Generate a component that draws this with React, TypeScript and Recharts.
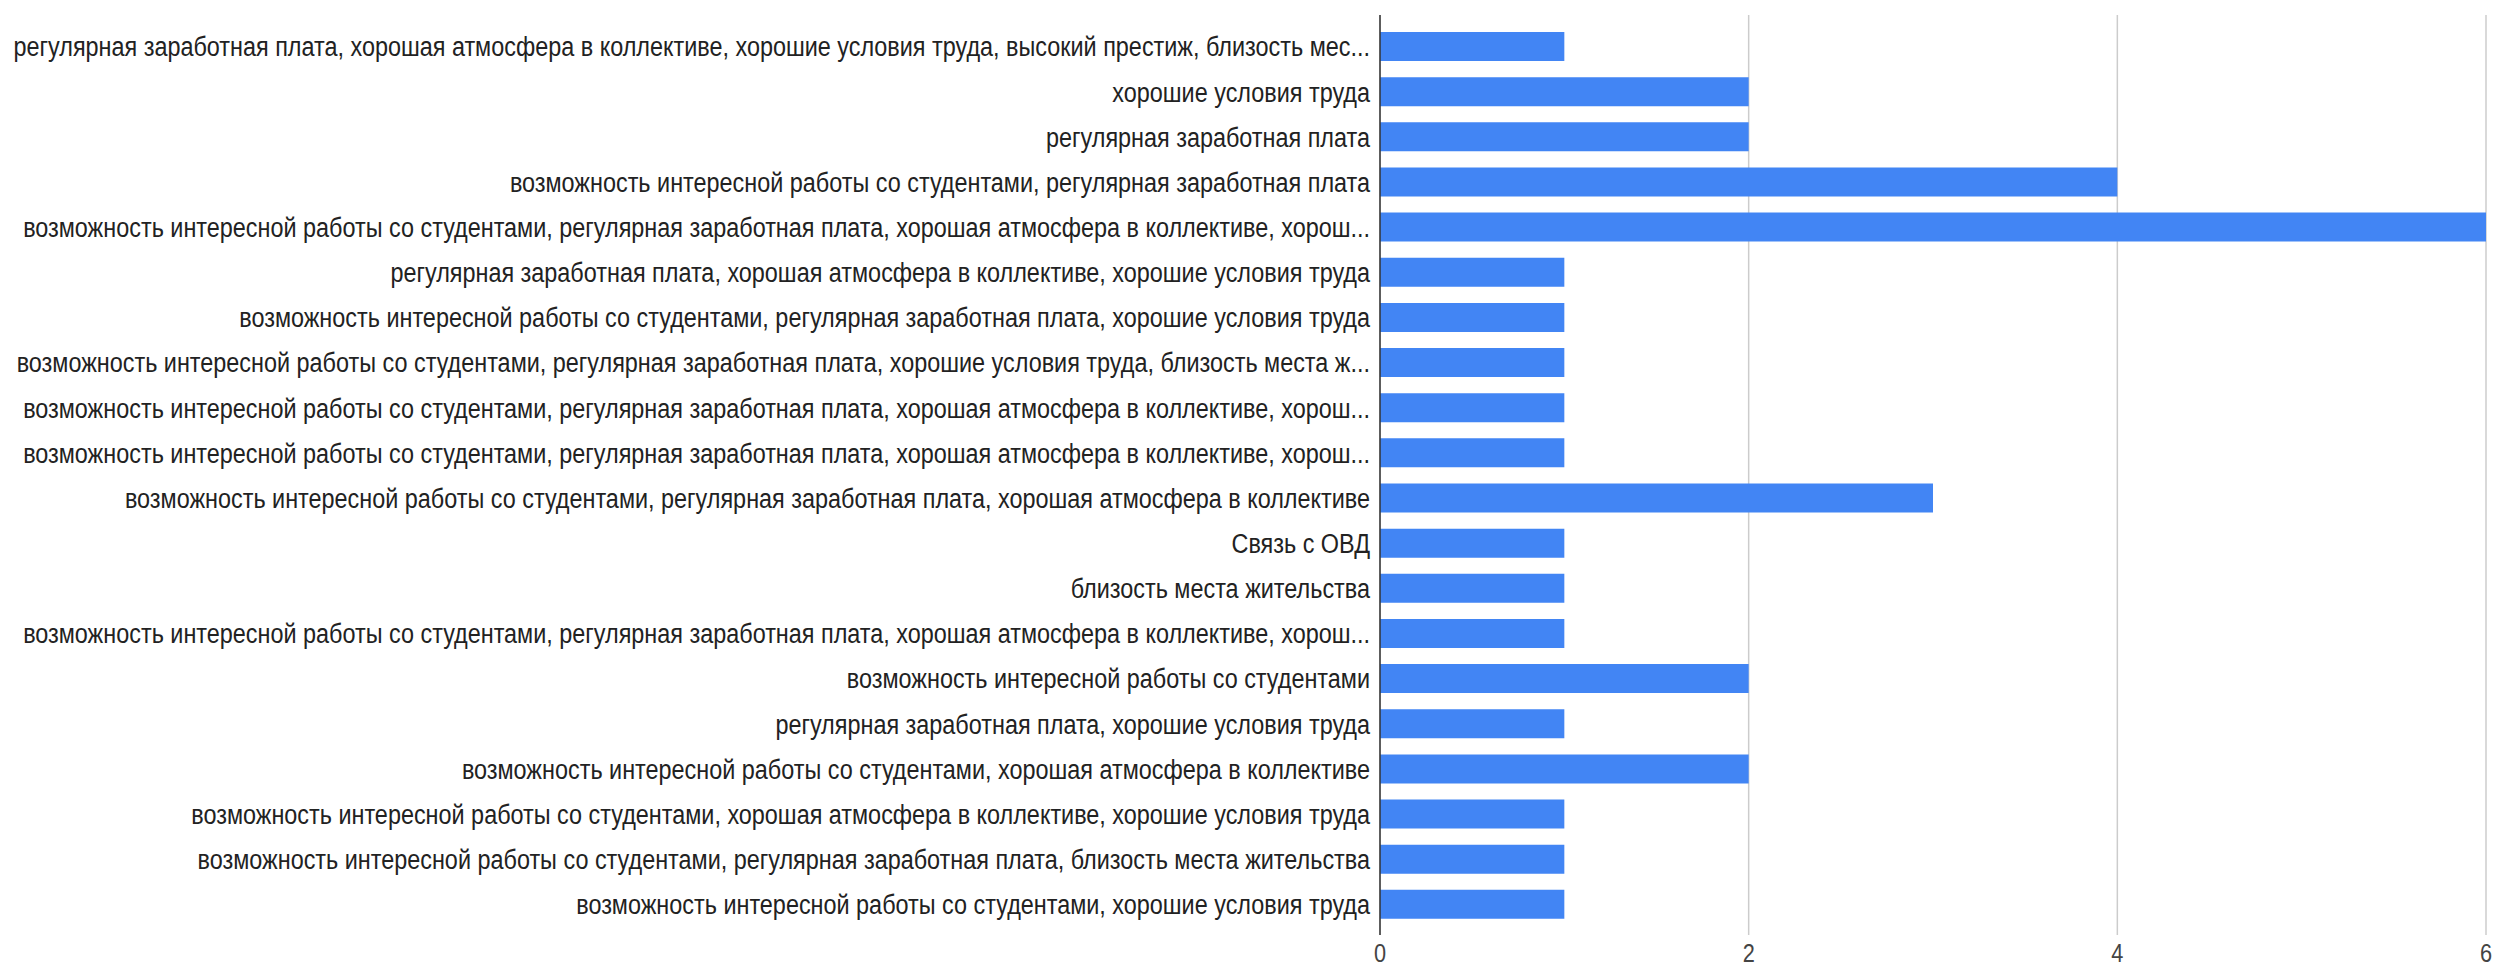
import React from "react";
import { BarChart, Bar, XAxis, YAxis, CartesianGrid } from "recharts";

const categories: string[] = [
  "регулярная заработная плата, хорошая атмосфера в коллективе, хорошие условия труда, высокий престиж, близость мес...",
  "хорошие условия труда",
  "регулярная заработная плата",
  "возможность интересной работы со студентами, регулярная заработная плата",
  "возможность интересной работы со студентами, регулярная заработная плата, хорошая атмосфера в коллективе, хорош...",
  "регулярная заработная плата, хорошая атмосфера в коллективе, хорошие условия труда",
  "возможность интересной работы со студентами, регулярная заработная плата, хорошие условия труда",
  "возможность интересной работы со студентами, регулярная заработная плата, хорошие условия труда, близость места ж...",
  "возможность интересной работы со студентами, регулярная заработная плата, хорошая атмосфера в коллективе, хорош...",
  "возможность интересной работы со студентами, регулярная заработная плата, хорошая атмосфера в коллективе, хорош...",
  "возможность интересной работы со студентами, регулярная заработная плата, хорошая атмосфера в коллективе",
  "Связь с ОВД",
  "близость места жительства",
  "возможность интересной работы со студентами, регулярная заработная плата, хорошая атмосфера в коллективе, хорош...",
  "возможность интересной работы со студентами",
  "регулярная заработная плата, хорошие условия труда",
  "возможность интересной работы со студентами, хорошая атмосфера в коллективе",
  "возможность интересной работы со студентами, хорошая атмосфера в коллективе, хорошие условия труда",
  "возможность интересной работы со студентами, регулярная заработная плата, близость места жительства",
  "возможность интересной работы со студентами, хорошие условия труда",
];

const counts: number[] = [1, 2, 2, 4, 6, 1, 1, 1, 1, 1, 3, 1, 1, 1, 2, 1, 2, 1, 1, 1];

const xTicks: number[] = [0, 2, 4, 6];

const data = categories.map((label, i) => ({
  key: String(i),
  label,
  value: counts[i],
}));

const FONT = "'Liberation Sans', Arial, sans-serif";
const SQUASH = 0.836;

const YTick = (props: any) => {
  const { x, y, payload } = props;
  const idx = Number(payload.value);
  return (
    <g transform={`translate(${x},${y})`}>
      <text
        transform={`scale(${SQUASH},1)`}
        x={0}
        y={0}
        dy="0.35em"
        textAnchor="end"
        fill="#222"
        fontSize={28}
        fontFamily={FONT}
      >
        {categories[idx]}
      </text>
    </g>
  );
};

const XTick = (props: any) => {
  const { x, y, payload } = props;
  return (
    <g transform={`translate(${x},${y})`}>
      <text
        transform={`scale(${SQUASH},1)`}
        x={0}
        y={19}
        textAnchor="middle"
        fill="#444"
        fontSize={26}
        fontFamily={FONT}
      >
        {payload.value}
      </text>
    </g>
  );
};

export default function App() {
  return (
    <div style={{ position: "absolute", left: 0, top: 0, background: "#fff" }}>
      <BarChart
        width={2494}
        height={968}
        data={data}
        layout="vertical"
        margin={{ top: 15, right: 8, bottom: 0, left: 0 }}
      >
        <CartesianGrid horizontal={false} stroke="#cccccc" strokeWidth={1.5} />
        <XAxis
          type="number"
          domain={[0, 6]}
          ticks={xTicks}
          axisLine={false}
          tickLine={false}
          height={33}
          tick={<XTick />}
          interval={0}
        />
        <YAxis
          type="category"
          dataKey="key"
          width={1380}
          padding={{ top: 9, bottom: 8 }}
          axisLine={{ stroke: "#333", strokeWidth: 1.5 }}
          tickLine={false}
          tickMargin={4}
          tick={<YTick />}
          interval={0}
        />
        <Bar dataKey="value" fill="#4285f4" barSize={29} isAnimationActive={false} />
      </BarChart>
    </div>
  );
}
